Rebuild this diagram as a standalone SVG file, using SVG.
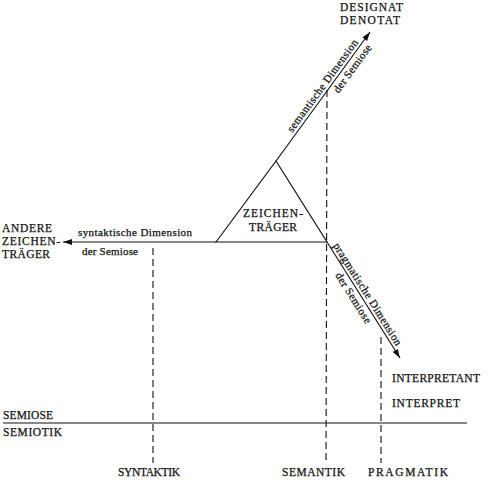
<svg xmlns="http://www.w3.org/2000/svg" width="489" height="480" viewBox="0 0 489 480">
<style>
  text { font-family: "Liberation Serif", "Times New Roman", serif; fill: #111; stroke: #111; stroke-width: 0.25; }
  .cap { font-size: 11.5px; }
  .low { font-size: 11px; }
  .ln { stroke: #111; stroke-width: 1.15; fill: none; }
  .dash { stroke: #111; stroke-width: 1.1; fill: none; stroke-dasharray: 7 4; }
</style>
<defs>
  <marker id="arr" markerUnits="userSpaceOnUse" markerWidth="10" markerHeight="7" refX="9" refY="3" orient="auto">
    <path d="M0,0 L9,3 L0,6 z" fill="#111"/>
  </marker>
</defs>
<rect width="489" height="480" fill="#fff"/>

<g id="connectors">
  <line class="ln" x1="276" y1="161" x2="370" y2="32" marker-end="url(#arr)"/>
  <line class="ln" x1="327" y1="242" x2="400" y2="358" marker-end="url(#arr)"/>
  <line class="ln" x1="216" y1="242" x2="63" y2="242" marker-end="url(#arr)"/>
  <line class="dash" x1="153" y1="248" x2="153" y2="463"/>
  <line class="dash" x1="327" y1="90" x2="326" y2="463"/>
  <line class="dash" x1="381" y1="337" x2="381" y2="463"/>
  <line class="ln" x1="3" y1="423" x2="467" y2="423" stroke-width="1.4"/>
  <text class="low" transform="translate(292.2,133) rotate(-53.75)" textLength="112" lengthAdjust="spacing">semantische Dimension</text>
  <text class="low" transform="translate(338.4,93.7) rotate(-53.75)" textLength="57" lengthAdjust="spacing">der Semiose</text>
  <text class="low" transform="translate(332.9,245.7) rotate(57.81)" textLength="119" lengthAdjust="spacing">pragmatische Dimension</text>
  <text class="low" transform="translate(334.9,275.2) rotate(57.81)" textLength="58" lengthAdjust="spacing">der Semiose</text>
  <text class="low" x="78" y="236" textLength="114" lengthAdjust="spacing">syntaktische Dimension</text>
  <text class="low" x="82" y="255" textLength="56" lengthAdjust="spacing">der Semiose</text>
</g>

<g id="zeichentraeger">
  <polygon class="ln" points="216,242 276,161 327,242"/>
  <text class="cap" x="243" y="217" textLength="60" lengthAdjust="spacing">ZEICHEN-</text>
  <text class="cap" x="249" y="231" textLength="48" lengthAdjust="spacing">TRÄGER</text>
</g>

<g id="designat">
  <text class="cap" x="340" y="11" textLength="63" lengthAdjust="spacing">DESIGNAT</text>
  <text class="cap" x="340" y="24" textLength="60" lengthAdjust="spacing">DENOTAT</text>
</g>

<g id="andere-zeichentraeger">
  <text class="cap" x="2" y="232" textLength="50" lengthAdjust="spacing">ANDERE</text>
  <text class="cap" x="2" y="245" textLength="58" lengthAdjust="spacing">ZEICHEN-</text>
  <text class="cap" x="2" y="258" textLength="48" lengthAdjust="spacing">TRÄGER</text>
</g>

<g id="interpretant">
  <text class="cap" x="392" y="382" textLength="88" lengthAdjust="spacing">INTERPRETANT</text>
  <text class="cap" x="392" y="407" textLength="68" lengthAdjust="spacing">INTERPRET</text>
</g>

<g id="semiose-semiotik">
  <text class="cap" x="3" y="419" textLength="50" lengthAdjust="spacing">SEMIOSE</text>
  <text class="cap" x="3" y="436" textLength="59" lengthAdjust="spacing">SEMIOTIK</text>
</g>

<g id="syntaktik"><text class="cap" x="118" y="476" textLength="62" lengthAdjust="spacing">SYNTAKTIK</text></g>
<g id="semantik"><text class="cap" x="282" y="476" textLength="63" lengthAdjust="spacing">SEMANTIK</text></g>
<g id="pragmatik"><text class="cap" x="368" y="476" textLength="80" lengthAdjust="spacing">PRAGMATIK</text></g>
</svg>
